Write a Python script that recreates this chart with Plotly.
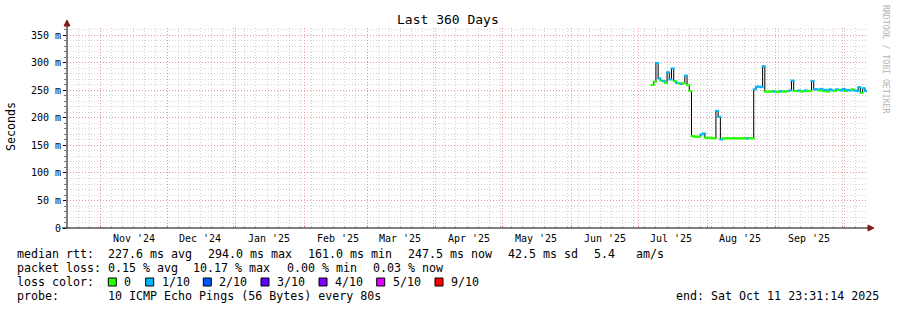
import plotly.graph_objects as go
import pandas as pd

# ---------------- data ----------------
range_start = "2024-10-16 23:31:14"
range_end = "2025-10-11 23:31:14"
y_max = 363.6

first_sample_day = "2025-07-07"
median_rtt_ms = [
    260, 266, 300, 272, 268, 267, 264, 283, 270, 290,
    267, 264, 263, 262, 263, 277, 260, 249, 167, 166,
    166, 166, 170, 172, 164, 164, 164, 163, 163, 213,
    202, 161, 163, 163, 163, 163, 163, 163, 163, 163,
    163, 163, 163, 163, 163, 163, 252, 257, 257, 256,
    294, 248, 248, 248, 249, 248, 247, 248, 249, 248,
    248, 249, 250, 268, 249, 249, 250, 248, 249, 250,
    249, 249, 267, 252, 252, 250, 253, 249, 251, 248,
    252, 250, 249, 252, 251, 250, 253, 249, 251, 250,
    252, 250, 249, 256, 246, 254, 249,
]
loss_tenths = [
    0, 0, 1, 1, 0, 1, 0, 1, 1, 1,
    0, 1, 0, 1, 0, 1, 0, 0, 0, 0,
    0, 0, 1, 1, 0, 0, 0, 0, 0, 1,
    1, 1, 0, 0, 0, 0, 0, 0, 0, 0,
    0, 0, 0, 1, 0, 0, 1, 1, 1, 1,
    1, 0, 0, 0, 0, 1, 0, 0, 1, 0,
    0, 0, 1, 1, 0, 0, 1, 0, 0, 1,
    0, 0, 1, 1, 1, 0, 1, 0, 1, 0,
    1, 1, 0, 1, 0, 1, 1, 0, 1, 1,
    0, 1, 1, 1, 0, 1, 1,
]

month_labels = ["Nov '24", "Dec '24", "Jan '25", "Feb '25", "Mar '25", "Apr '25",
                "May '25", "Jun '25", "Jul '25", "Aug '25", "Sep '25"]
y_tick_vals = [0, 50, 100, 150, 200, 250, 300, 350]
y_tick_text = ["0", "50 m", "100 m", "150 m", "200 m", "250 m", "300 m", "350 m"]

loss_classes = ["0", "1/10", "2/10", "3/10", "4/10", "5/10", "9/10"]
loss_colors = ["#26ff00", "#00b8ff", "#0059ff", "#5e00ff", "#7e00ff", "#dd00ff", "#ff0000"]

rtt_stats = ["227.6 ms avg", "294.0 ms max", "161.0 ms min", "247.5 ms now", "42.5 ms sd", "5.4", "am/s"]
loss_stats = ["0.15 % avg", "10.17 % max", "0.00 % min", "0.03 % now"]
probe_text = "10 ICMP Echo Pings (56 Bytes) every 80s"
end_text = "end: Sat Oct 11 23:31:14 2025"

# ---------------- layout geometry (pixels) ----------------
W, H = 897, 310
PL, PR, PT, PB = 67, 867, 28, 228
FONT = "DejaVu Sans Mono"


def px(x):
    return (x - PL) / (PR - PL)


def py(y):
    return (PB - y) / (PB - PT)


dates = pd.date_range(first_sample_day, periods=len(median_rtt_ms), freq="D")
mid_dates = dates + pd.Timedelta(hours=12)
month_starts = pd.date_range("2024-11-01", "2025-10-01", freq="MS")
label_dates = month_starts[:len(month_labels)] + pd.Timedelta(days=15)

fig = go.Figure()

# black median trace (step)
fig.add_trace(go.Scatter(
    x=dates, y=median_rtt_ms, mode="lines", line=dict(color="#000000", width=1, shape="hv"),
    hoverinfo="skip", showlegend=False))
# loss-coloured median segments
fig.add_trace(go.Scatter(
    x=mid_dates, y=median_rtt_ms, mode="markers",
    marker=dict(symbol="line-ew", size=3,
                line=dict(width=2, color=[loss_colors[l] for l in loss_tenths])),
    hoverinfo="skip", showlegend=False))

grid_major = "rgba(240,110,110,0.6)"
grid_minor = "rgba(150,150,150,0.42)"
DASH = "1px,2px"

fig.update_layout(
    width=W, height=H,
    margin=dict(l=PL, r=W - PR, t=PT, b=H - PB, pad=0),
    paper_bgcolor="white", plot_bgcolor="white",
    showlegend=False,
    font=dict(family=FONT, size=10, color="#000"),
    xaxis=dict(
        type="date", range=[range_start, range_end],
        tickmode="array", tickvals=list(month_starts), showticklabels=False,
        showgrid=True, gridcolor=grid_major, gridwidth=1, griddash=DASH,
        ticks="inside", ticklen=3, tickcolor=grid_major,
        showline=False, zeroline=False, fixedrange=True,
        minor=dict(tick0="2024-10-17", dtick=5 * 86400000, showgrid=True,
                   gridcolor=grid_minor, gridwidth=1, griddash=DASH,
                   ticks="inside", ticklen=2, tickcolor=grid_minor),
    ),
    yaxis=dict(
        range=[0, y_max], tickmode="array", tickvals=y_tick_vals, ticktext=y_tick_text,
        showgrid=True, gridcolor=grid_major, gridwidth=1, griddash=DASH,
        ticks="outside", ticklen=3, tickcolor="#000",
        tickfont=dict(family=FONT, size=10, color="#000"),
        showline=False, zeroline=False, fixedrange=True,
        minor=dict(dtick=10, showgrid=True, gridcolor=grid_minor, gridwidth=1,
                   griddash=DASH, ticks="outside", ticklen=2, tickcolor="#777"),
    ),
)

shapes = []
# axis lines
shapes.append(dict(type="line", xref="paper", yref="paper", x0=px(62), x1=px(869), y0=py(228), y1=py(228),
                   line=dict(color="#000", width=1)))
shapes.append(dict(type="line", xref="paper", yref="paper", x0=px(67), x1=px(67), y0=py(228), y1=py(24),
                   line=dict(color="#000", width=1)))
# arrows
arrow_col = "#7f1b1b"
shapes.append(dict(type="path", xref="paper", yref="paper",
                   path=f"M{px(868)},{py(225)} L{px(868)},{py(231)} L{px(874)},{py(228)} Z",
                   fillcolor=arrow_col, line=dict(color=arrow_col, width=1)))
shapes.append(dict(type="path", xref="paper", yref="paper",
                   path=f"M{px(64)},{py(26)} L{px(70)},{py(26)} L{px(67)},{py(20)} Z",
                   fillcolor=arrow_col, line=dict(color=arrow_col, width=1)))

annotations = []


def text(x, y, s, anchor="left", size=11.65, color="#000", angle=0, xref="paper"):
    annotations.append(dict(
        x=px(x) if xref == "paper" else x, y=py(y), xref=xref, yref="paper",
        text=s, showarrow=False, xanchor=anchor, yanchor="middle",
        textangle=angle, borderpad=0,
        font=dict(family=FONT, size=size, color=color)))


# title, axis title, watermark
text(447.5, 19, "Last 360 Days", anchor="center", size=13)
text(11, 126, "Seconds", anchor="center", size=11.65, angle=-90)
text(886, 59, "RRDTOOL / TOBI OETIKER", anchor="center", size=8.2, color="#b4b4b4", angle=90)

# month labels via data x-scale
for d, lab in zip(label_dates, month_labels):
    annotations.append(dict(x=d, y=py(238), xref="x", yref="paper", text=lab, showarrow=False,
                            xanchor="center", yanchor="middle", borderpad=0,
                            font=dict(family=FONT, size=10, color="#000")))

# legend rows
text(16, 254, "median rtt:")
for xpos, s in zip([107.3, 207.3, 307.3, 407.3, 506.7, 593.3, 635], rtt_stats):
    text(xpos, 254, s)
text(16, 268, "packet loss:")
for xpos, s in zip([107.3, 192.3, 286, 372.3], loss_stats):
    text(xpos, 268, s)
text(16, 282, "loss color:")
for xpos, lab, col in zip([108.3, 145.7, 203.3, 261, 319, 376.7, 435], loss_classes, loss_colors):
    shapes.append(dict(type="rect", xref="paper", yref="paper",
                       x0=px(xpos), x1=px(xpos + 8), y0=py(286), y1=py(278),
                       fillcolor=col, line=dict(color="#000", width=1)))
    text(xpos + 15, 282, lab)
text(16, 296, "probe:")
text(107.3, 296, probe_text)
text(880, 296, end_text, anchor="right")

fig.update_layout(shapes=shapes, annotations=annotations)
fig.write_html("out.html")
